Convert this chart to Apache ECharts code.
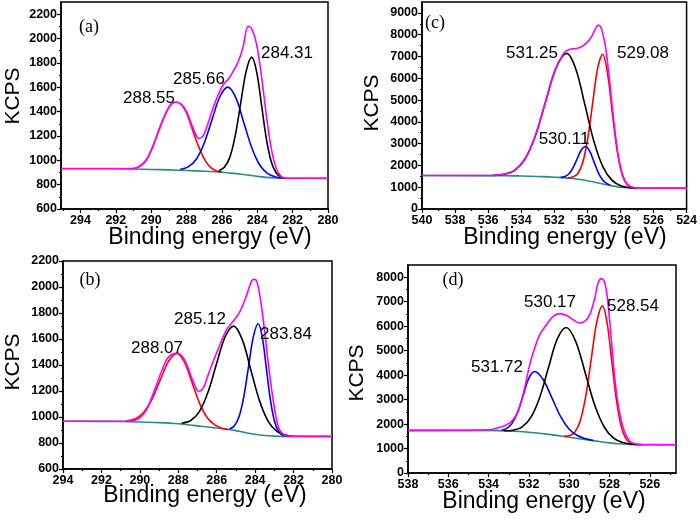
<!DOCTYPE html>
<html><head><meta charset="utf-8">
<script src="https://cdn.jsdelivr.net/npm/echarts@6/dist/echarts.min.js"></script>
<style>html,body{margin:0;padding:0;background:#fff}#c{width:700px;height:521px}</style>
</head><body><div id="c"></div>
<script>
// ---------- Panel (a) C1s ----------
const xTicksA = [280,282,284,286,288,290,292,294];
const xMinorA = [281,283,285,287,289,291,293,295];
const yTicksA = [600,800,1000,1200,1400,1600,1800,2000,2200];
const yMinorA = [700,900,1100,1300,1500,1700,1900,2100];
const peakLabelsA = ['288.55','285.66','284.31'];
const bgA = [[295.1,930],[292,930],[291,928],[290,925],[289,921],[288,916],[287,910],[286,902],[285.5,895],[285,888],[284.5,878],[284,868],[283.5,860],[283,855],[282.5,853],[282,853],[280,853]];
const redA = [[291.02,930],[290.64,950],[290.26,1005],[289.98,1088],[289.69,1196],[289.41,1305],[289.13,1400],[288.85,1463],[288.57,1477],[288.28,1455],[288.0,1389],[287.72,1275],[287.44,1158],[287.15,1057],[286.87,981],[286.59,935],[286.31,913],[286.0,904]];
const blueA = [[288.36,925],[287.91,946],[287.46,1007],[287.01,1138],[286.56,1333],[286.11,1524],[285.66,1601],[285.21,1512],[284.76,1309],[284.31,1103],[283.86,961],[283.41,890],[282.96,863],[282.5,854]];
const blackA = [[286.17,914],[285.86,942],[285.55,1026],[285.24,1207],[284.93,1476],[284.62,1736],[284.31,1847],[284.035,1726],[283.76,1455],[283.485,1176],[283.21,988],[282.935,898],[282.66,864],[282.4,854]];
const magA = [[295.1,932],[291.5,932],[291.02,933],[290.64,953],[290.26,1008],[289.98,1090],[289.69,1198],[289.41,1307],[289.13,1402],[288.85,1465],[288.57,1479],[288.28,1457],[288.0,1400],[287.72,1295],[287.44,1200],[287.31,1180],[287.06,1200],[286.78,1307],[286.5,1430],[286.21,1538],[285.93,1620],[285.65,1666],[285.37,1729],[285.08,1810],[284.8,1933],[284.52,2101],[284.33,2083],[284.05,1960],[283.76,1688],[283.48,1361],[283.2,1090],[282.91,926],[282.63,864],[282.35,853],[280,853]];

// ---------- Panel (b) C1s ----------
const xTicksB = [280,282,284,286,288,290,292,294];
const xMinorB = [281,283,285,287,289,291,293];
const yTicksB = [600,800,1000,1200,1400,1600,1800,2000,2200];
const yMinorB = [700,900,1100,1300,1500,1700,1900,2100];
const peakLabelsB = ['288.07','285.12','283.84'];
const bgB = [[294,967],[291,965],[290,962],[289,957],[288,948],[287,932],[286,915],[285,895],[284.5,880],[284,867],[283.5,858],[283,853],[282.5,851],[280,851]];
const redB = [[290.71,968],[290.27,984],[289.83,1031],[289.39,1131],[288.95,1281],[288.51,1428],[288.07,1489],[287.68,1422],[287.29,1268],[286.9,1109],[286.51,998],[286.12,941],[285.73,914],[285.4,905]];
const blackB = [[287.82,953],[287.37,971],[286.92,1038],[286.47,1184],[286.02,1403],[285.57,1614],[285.12,1699],[284.67,1595],[284.22,1360],[283.77,1124],[283.32,967],[282.87,890],[282.42,861],[282.0,852]];
const blueB = [[285.34,907],[285.09,930],[284.84,1001],[284.59,1157],[284.34,1392],[284.09,1620],[283.84,1717],[283.63,1614],[283.42,1378],[283.21,1135],[283.0,971],[282.79,892],[282.58,862],[282.3,852]];
const magB = [[294,967],[290.6,968],[290.35,972],[290.0,993],[289.65,1057],[289.39,1147],[289.13,1250],[288.87,1352],[288.61,1442],[288.35,1481],[288.08,1492],[287.82,1471],[287.56,1404],[287.3,1301],[287.04,1211],[286.92,1198],[286.7,1224],[286.44,1327],[286.18,1429],[285.83,1558],[285.48,1674],[285.13,1740],[284.78,1815],[284.43,1943],[284.17,2051],[284.0,2059],[283.83,1995],[283.57,1738],[283.31,1404],[283.05,1120],[282.78,918],[282.52,865],[282.26,853],[280,851]];

// ---------- Panel (c) O1s ----------
const xTicksC = [524,526,528,530,532,534,536,538,540];
const xMinorC = [525,527,529,531,533,535,537,539];
const yTicksC = [0,1000,2000,3000,4000,5000,6000,7000,8000,9000];
const yMinorC = [500,1500,2500,3500,4500,5500,6500,7500,8500];
const peakLabelsC = ['531.25','529.08','530.11'];
const bgC = [[540,1534],[535,1530],[534,1515],[533,1490],[532,1460],[531,1410],[530,1300],[529.5,1220],[529,1140],[528.5,1060],[528,1000],[527.5,970],[527,960],[524,958]];
const blackC = [[535.7,1541],[535.06,1591],[534.425,1762],[533.79,2272],[533.155,3341],[532.52,4939],[531.885,6493],[531.25,7142],[530.7,6428],[530.15,4789],[529.6,3093],[529.05,1922],[528.5,1312],[527.95,1058],[527.4,976],[527.0,962]];
const redC = [[531.18,1427],[530.88,1465],[530.58,1632],[530.28,2138],[529.98,3224],[529.68,4862],[529.38,6448],[529.08,7100],[528.78,6223],[528.48,4340],[528.18,2584],[527.88,1541],[527.58,1114],[527.28,990],[527.0,962]];
const blueC = [[531.61,1452],[531.36,1494],[531.11,1621],[530.86,1902],[530.61,2317],[530.36,2716],[530.11,2870],[529.86,2651],[529.61,2187],[529.36,1707],[529.11,1361],[528.86,1184],[528.61,1092]];
const magC = [[540,1534],[536,1536],[535.5,1551],[535,1603],[534.5,1739],[534,2064],[533.5,2693],[533,3704],[532.5,4999],[532,6266],[531.5,7078],[531.25,7267],[531,7341],[530.75,7356],[530.5,7404],[530.25,7501],[530,7657],[529.75,7913],[529.5,8290],[529.35,8440],[529.2,8360],[529.05,8000],[528.9,7429],[528.7,6189],[528.5,4732],[528.3,3374],[528.1,2325],[527.9,1642],[527.7,1262],[527.5,1081],[527.3,1004],[527,962],[526.5,958],[524,958]];

// ---------- Panel (d) O1s ----------
const xTicksD = [526,528,530,532,534,536,538];
const xMinorD = [525,527,529,531,533,535,537];
const yTicksD = [0,1000,2000,3000,4000,5000,6000,7000,8000];
const yMinorD = [500,1500,2500,3500,4500,5500,6500,7500];
const peakLabelsD = ['531.72','530.17','528.54'];
const bgD = [[538,1742],[534,1740],[533,1715],[532,1665],[531,1580],[530,1460],[529,1340],[528.5,1285],[528,1230],[527.5,1195],[527,1170],[526.5,1158],[524.7,1157]];
const blueD = [[533.37,1750],[533.095,1826],[532.82,2047],[532.545,2512],[532.27,3211],[531.995,3886],[531.72,4150],[531.295,3821],[530.87,3091],[530.445,2337],[530.02,1812],[529.595,1531],[529.17,1398],[528.8,1330]];
const blackD = [[533.23,1724],[532.79,1749],[532.35,1877],[531.91,2260],[531.47,3076],[531.03,4304],[530.59,5481],[530.15,5948],[529.675,5371],[529.2,4079],[528.725,2756],[528.25,1860],[527.775,1412],[527.3,1234],[526.825,1174],[526.4,1158]];
const redD = [[530.275,1501],[530.0,1521],[529.725,1664],[529.45,2134],[529.175,3159],[528.9,4699],[528.625,6195],[528.35,6830],[528.12,6138],[527.89,4584],[527.66,3004],[527.43,1937],[527.2,1421],[526.97,1226],[526.74,1171]];
const magD = [[538,1742],[533.94,1770],[533.45,1864],[532.95,2044],[532.62,2383],[532.37,2950],[532.21,3475],[531.96,4427],[531.71,5110],[531.46,5654],[531.13,6062],[530.8,6402],[530.47,6512],[530.14,6443],[529.81,6267],[529.47,6132],[529.23,6198],[528.98,6471],[528.73,7154],[528.57,7767],[528.4,7943],[528.23,7767],[528.07,6880],[527.9,5380],[527.74,3884],[527.57,2792],[527.32,1840],[526.99,1292],[526.66,1186],[526.3,1160],[524.7,1157]];

const chart = echarts.init(document.getElementById('c'), null, {renderer: 'canvas'});
const SANS = '"Liberation Sans", Arial, sans-serif';
const SERIF = '"Liberation Serif", "Times New Roman", serif';

const panels = [
  {grid:{left:61, top:2, width:267, height:207}, x:[280,295.1], y:[600,2300], xT:xTicksA, xM:xMinorA, yT:yTicksA, yM:yMinorA,
   s:[bgA, redA, blueA, blackA, magA]},
  {grid:{left:63, top:261, width:269, height:208}, x:[280,294], y:[600,2200], xT:xTicksB, xM:xMinorB, yT:yTicksB, yM:yMinorB,
   s:[bgB, redB, blueB, blackB, magB]},
  {grid:{left:422, top:2, width:267, height:207}, x:[524,540], y:[0,9500], xT:xTicksC, xM:xMinorC, yT:yTicksC, yM:yMinorC,
   s:[bgC, redC, blueC, blackC, magC]},
  {grid:{left:408, top:265, width:268, height:208}, x:[524.7,538], y:[0,8500], xT:xTicksD, xM:xMinorD, yT:yTicksD, yM:yMinorD,
   s:[bgD, redD, blueD, blackD, magD]}
];
const colors = ['#2b8a8a', '#ff0000', '#0000ff', '#000000', '#ff00ff'];
const plain = v => String(v);

const grids = [], xAxes = [], yAxes = [], series = [];
panels.forEach((p, i) => {
  grids.push(Object.assign({show: true, borderColor: '#000', borderWidth: 1.5, backgroundColor: 'transparent'}, p.grid));
  const lab = {fontSize: 12.5, fontWeight: 'bold', color: '#000', fontFamily: SANS, formatter: plain};
  xAxes.push({type: 'value', gridIndex: i, position: 'bottom', min: p.x[0], max: p.x[1], inverse: true,
    axisLine: {show: true, onZero: false, lineStyle: {color: '#000', width: 1.5}},
    axisTick: {show: true, inside: false, length: 4, customValues: p.xT, lineStyle: {color: '#000', width: 1.2}},
    axisLabel: Object.assign({customValues: p.xT, margin: 5}, lab),
    splitLine: {show: false}});
  xAxes.push({type: 'value', gridIndex: i, position: 'bottom', min: p.x[0], max: p.x[1], inverse: true,
    axisLine: {show: false}, axisLabel: {show: false}, splitLine: {show: false},
    axisTick: {show: true, inside: false, length: 2, customValues: p.xM, lineStyle: {color: '#000', width: 1.2}}});
  yAxes.push({type: 'value', gridIndex: i, position: 'left', min: p.y[0], max: p.y[1],
    axisLine: {show: true, onZero: false, lineStyle: {color: '#000', width: 1.5}},
    axisTick: {show: true, inside: false, length: 4, customValues: p.yT, lineStyle: {color: '#000', width: 1.2}},
    axisLabel: Object.assign({customValues: p.yT, margin: 4}, lab),
    splitLine: {show: false}});
  yAxes.push({type: 'value', gridIndex: i, position: 'left', min: p.y[0], max: p.y[1],
    axisLine: {show: false}, axisLabel: {show: false}, splitLine: {show: false},
    axisTick: {show: true, inside: false, length: 2, customValues: p.yM, lineStyle: {color: '#000', width: 1.2}}});
  p.s.forEach((d, k) => {
    series.push({type: 'line', xAxisIndex: 2 * i, yAxisIndex: 2 * i, data: d, smooth: 0.35,
      showSymbol: false, symbol: 'none', silent: true, animation: false,
      lineStyle: {color: colors[k], width: 1.6}, z: 2 + k});
  });
});

function txt(x, y, s, font, rot) {
  return {type: 'text', x: x, y: y, rotation: rot || 0, silent: true, z: 100,
    style: {text: s, font: font, fill: '#000', align: 'center', verticalAlign: 'middle', textAlign: 'center', textVerticalAlign: 'middle'}};
}
const titleFont = '23px ' + SANS, kFont = '21px ' + SANS, pkFont = '17px ' + SANS, letFont = '18px ' + SERIF;
const graphic = [
  txt(210, 238, 'Binding energy (eV)', titleFont), txt(13, 96, 'KCPS', kFont, Math.PI / 2),
  txt(205, 496, 'Binding energy (eV)', titleFont), txt(13, 362, 'KCPS', kFont, Math.PI / 2),
  txt(565, 238, 'Binding energy (eV)', titleFont), txt(372, 103, 'KCPS', kFont, Math.PI / 2),
  txt(544, 502, 'Binding energy (eV)', titleFont), txt(357, 373, 'KCPS', kFont, Math.PI / 2),
  txt(89, 27, '(a)', letFont), txt(90, 280, '(b)', letFont), txt(435, 23, '(c)', letFont), txt(453, 280, '(d)', letFont),
  txt(149, 98, peakLabelsA[0], pkFont), txt(199, 79, peakLabelsA[1], pkFont), txt(287, 53, peakLabelsA[2], pkFont),
  txt(157, 348, peakLabelsB[0], pkFont), txt(200, 319, peakLabelsB[1], pkFont), txt(286, 334, peakLabelsB[2], pkFont),
  txt(532, 53, peakLabelsC[0], pkFont), txt(643, 53, peakLabelsC[1], pkFont), txt(564, 139, peakLabelsC[2], pkFont),
  txt(497, 367, peakLabelsD[0], pkFont), txt(550, 302, peakLabelsD[1], pkFont), txt(633, 306, peakLabelsD[2], pkFont)
];

chart.setOption({animation: false, backgroundColor: '#fff', grid: grids, xAxis: xAxes, yAxis: yAxes, series: series, graphic: graphic});
</script></body></html>
